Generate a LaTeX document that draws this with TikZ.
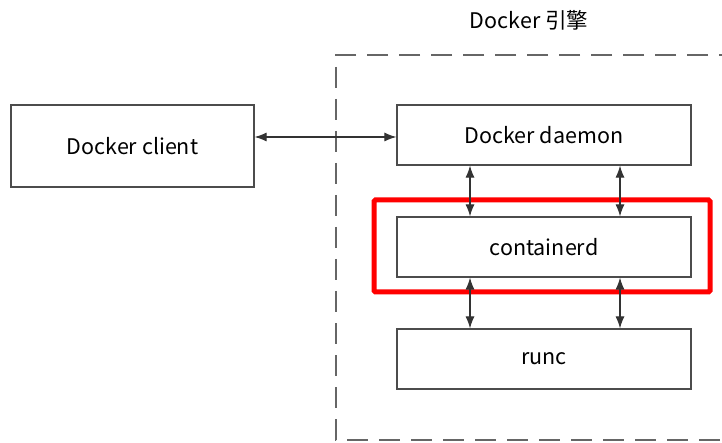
\documentclass[tikz,border=0pt]{standalone}
\usepackage{fontspec}
\setmainfont{Noto Sans CJK SC}
\usetikzlibrary{arrows.meta}

\tikzset{
  block/.style={draw=black!70, line width=1.2pt, fill=white, minimum width=294pt,
    minimum height=60pt, inner sep=0pt, font=\fontsize{21.5}{24}\selectfont},
  link/.style={draw=black!80, line width=1.1pt, {Latex[length=12pt,width=9pt]}-{Latex[length=12pt,width=9pt]}},
  engine/.style={draw=black!60, line width=1.6pt, dash pattern=on 21pt off 11pt},
  mark box/.style={draw=red, line width=5pt, rounded corners=1.5pt}
}

\begin{document}
\begin{tikzpicture}[x=1pt,y=-1pt]
  \useasboundingbox[fill=white] (0,0) rectangle (722,443);
  \clip (0,0) rectangle (722,443);

  % engine frame
  \coordinate (eng tl) at (336,55);
  \coordinate (eng tr) at (740,55);
  \coordinate (eng bl) at (336,440);
  \coordinate (eng br) at (740,440);
  \draw[engine] (eng tr) -- (eng tl) -- (eng bl) -- (eng br);
  \node[font=\fontsize{21.5}{24}\selectfont] (title) at (529,20) {Docker 引擎};

  % blocks
  \node[block, minimum width=243pt, minimum height=82pt] (client) at (132.5,146) {Docker client};
  \node[block] (daemon) at (544,135) {Docker daemon};
  \node[block] (ctrd) at (544,247) {containerd};
  \node[block] (runc) at (544,359) {runc};

  % highlight
  \draw[mark box] (374,200) rectangle (710,292);

  % links
  \draw[link] (client.east |- 0,137) -- (daemon.west |- 0,137);
  \foreach \x in {470,620}{
    \draw[link] (daemon.south -| \x,0) -- (ctrd.north -| \x,0);
    \draw[link] (ctrd.south -| \x,0) -- (runc.north -| \x,0);
  }
\end{tikzpicture}
\end{document}
